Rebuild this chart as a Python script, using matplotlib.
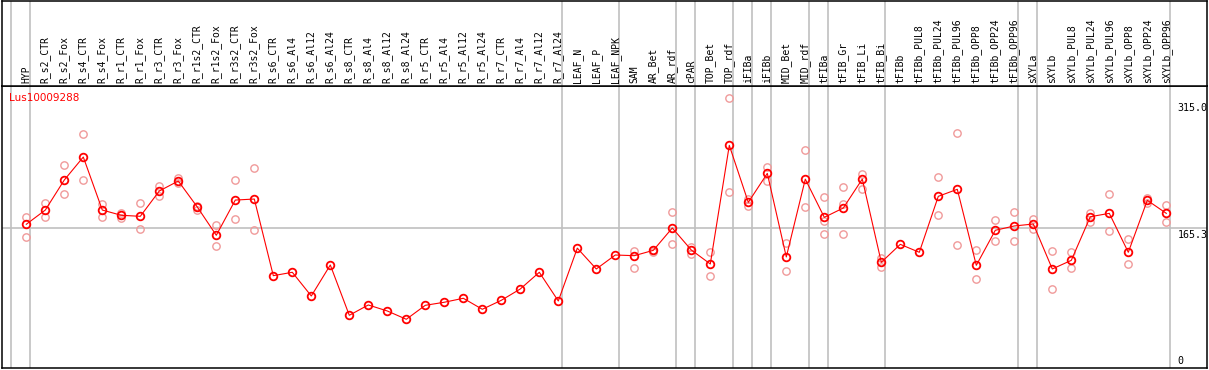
import numpy as np
import matplotlib
matplotlib.use('Agg')
import matplotlib.pyplot as plt
import matplotlib.transforms as mtransforms

gene = 'Lus10009288'

samples = ['HYP', 'R_s2_CTR', 'R_s2_Fox', 'R_s4_CTR', 'R_s4_Fox', 'R_r1_CTR', 'R_r1_Fox',
           'R_r3_CTR', 'R_r3_Fox', 'R_r1s2_CTR', 'R_r1s2_Fox', 'R_r3s2_CTR', 'R_r3s2_Fox',
           'R_s6_CTR', 'R_s6_Al4', 'R_s6_Al12', 'R_s6_Al24', 'R_s8_CTR', 'R_s8_Al4',
           'R_s8_Al12', 'R_s8_Al24', 'R_r5_CTR', 'R_r5_Al4', 'R_r5_Al12', 'R_r5_Al24',
           'R_r7_CTR', 'R_r7_Al4', 'R_r7_Al12', 'R_r7_Al24', 'LEAF_N', 'LEAF_P', 'LEAF_NPK',
           'SAM', 'AR_Bet', 'AR_rdf', 'cPAR', 'TOP_Bet', 'TOP_rdf', 'iFIBa', 'iFIBb',
           'MID_Bet', 'MID_rdf', 'tFIBa', 'tFIB_Gr', 'tFIB_Li', 'tFIB_Bi', 'tFIBb',
           'tFIBb_PUL8', 'tFIBb_PUL24', 'tFIBb_PUL96', 'tFIBb_OPP8', 'tFIBb_OPP24',
           'tFIBb_OPP96', 'sXYLa', 'sXYLb', 'sXYLb_PUL8', 'sXYLb_PUL24', 'sXYLb_PUL96',
           'sXYLb_OPP8', 'sXYLb_OPP24', 'sXYLb_OPP96']

means = [169.7, 186.5, 222.0, 249.1, 186.5, 180.3, 179.1, 209.0, 220.8, 190.1, 156.7, 198.3,
         199.5, 109.0, 113.0, 85.0, 121.6, 62.2, 74.4, 67.3, 57.5, 74.0, 77.6, 82.3, 69.3,
         79.9, 93.3, 113.0, 79.1, 141.5, 116.9, 133.4, 132.6, 138.9, 165.3, 139.3, 122.8,
         262.9, 195.6, 229.8, 131.1, 223.0, 177.9, 188.9, 223.1, 124.8, 146.0, 136.6, 202.7,
         211.0, 121.2, 162.6, 167.7, 170.0, 116.9, 127.1, 178.6, 182.6, 136.6, 198.0, 182.6]

nan = np.nan
rep_a = [177.9, 194.8, 239.3, 276.3, 193.6, 182.6, 194.4, 214.5, 224.0, 191.3, 168.5, 221.6,
         235.8, nan, nan, nan, nan, nan, nan, nan, nan, nan, nan, nan, nan,
         nan, nan, nan, nan, nan, nan, nan, 138.5, 139.5, 183.8, 143.2, 137.0,
         318.8, 199.2, 237.3, 147.2, 257.0, 201.9, 213.7, 229.0, 130.3, nan, nan, 225.2,
         277.1, 138.9, 174.7, 184.2, 176.3, 137.8, 137.0, 183.4, 205.4, 152.3, 200.4, 192.1]
rep_b = [154.3, 177.9, 205.4, 221.6, 178.6, 177.5, 163.7, 202.7, 218.1, 186.5, 144.0, 175.9,
         162.9, nan, nan, nan, nan, nan, nan, nan, nan, nan, nan, nan, nan,
         nan, nan, nan, nan, nan, nan, nan, 117.7, 137.5, 146.0, 134.6, 108.3,
         207.4, 191.7, 221.2, 114.5, 189.7, 173.9, 194.0, 211.3, 119.2, nan, nan, 180.3,
         144.9, 104.7, 149.6, 149.6, 163.7, 93.7, 117.7, 172.7, 161.4, 122.8, 195.2, 172.0]
rep_c = [nan] * 42 + [157.9, 157.9] + [nan] * 17

# separators drawn after these samples
group_ends = ['HYP', 'R_r7_Al24', 'LEAF_NPK', 'AR_rdf', 'cPAR', 'TOP_rdf', 'iFIBa', 'iFIBb',
              'MID_rdf', 'tFIBa', 'tFIB_Bi', 'tFIBb_OPP96', 'sXYLa', 'sXYLb_OPP96']

y_ticks = [315.0, 165.3, 0]

W, H = 1209, 370
fig = plt.figure(figsize=(W / 100, H / 100), dpi=100)
x0, x1 = 2 / W, 1207.3 / W
ax = fig.add_axes([x0, (H - 368.3) / H, x1 - x0, (368.3 - 86) / H])
hdr = fig.add_axes([x0, (H - 86) / H, x1 - x0, (86 - 0.6) / H])

x = np.arange(len(samples))
xlim = ((2 - 26.3) / 19, (1207.3 - 26.3) / 19)
gray = '#c0c0c0'

for a in (ax, hdr):
    a.set_xlim(*xlim)
    a.set_xticks([])
    a.set_yticks([])
    for s in a.spines.values():
        s.set_linewidth(1.1)
        s.set_color('black')
    a.axvline((10.5 - 26.3) / 19, color=gray, lw=1.2, zorder=0)
    for g in group_ends:
        a.axvline(samples.index(g) + 0.21, color=gray, lw=1.2, zorder=0)

ax.set_ylim(-0.4, 333)
hdr.set_ylim(0, 1)
ax.axhline(y_ticks[1], color=gray, lw=1.2, zorder=0)

ax.plot(x, rep_a, 'o', ms=5.3, mfc='none', mec='#f09a9a', mew=1.0, zorder=2)
ax.plot(x, rep_b, 'o', ms=5.3, mfc='none', mec='#f09a9a', mew=1.0, zorder=2)
ax.plot(x, rep_c, 'o', ms=5.3, mfc='none', mec='#f09a9a', mew=1.0, zorder=2)
ax.plot(x, means, '-', color='red', lw=0.8, zorder=3)
ax.plot(x, means, 'o', ms=5.5, mfc='none', mec='red', mew=1.3, zorder=4)

mono = 'DejaVu Sans Mono'
for i, name in enumerate(samples):
    hdr.text(i, 0.03, name, rotation=90, ha='center', va='bottom',
             fontsize=7, family=mono)

trans = mtransforms.blended_transform_factory(ax.transAxes, ax.transData)
for v in y_ticks[:2]:
    ax.text(0.9755, v - 2, '%.1f' % v, transform=trans, ha='left', va='top',
            fontsize=7.2, family=mono)
ax.text(0.9755, 2, '0', transform=trans, ha='left', va='bottom', fontsize=7.2, family=mono)

ax.text(0.006, 0.975, gene, transform=ax.transAxes, color='red', ha='left', va='top',
        fontsize=7.5)

fig.savefig('out.png', dpi=100)
